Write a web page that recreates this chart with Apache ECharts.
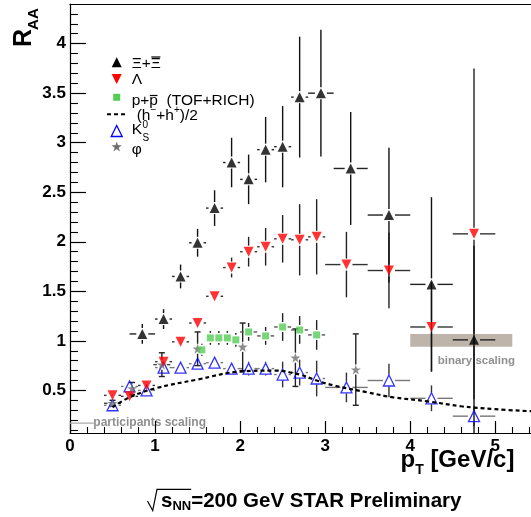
<!DOCTYPE html>
<html>
<head>
<meta charset="utf-8">
<script src="https://cdn.jsdelivr.net/npm/echarts@6/dist/echarts.min.js"></script>
<style>
  html, body { margin: 0; padding: 0; background: #fff; }
  #main { width: 531px; height: 517px; }
</style>
</head>
<body>
<div id="main"></div>
<script>
// ---- data ----
// Xi + anti-Xi
const xiX  = [0.85, 1.1, 1.3, 1.5, 1.7, 1.9, 2.1, 2.3, 2.5, 2.7, 2.95, 3.3, 3.75, 4.25, 4.75]
const xiY  = [1.07, 1.22, 1.65, 1.99, 2.34, 2.80, 2.63, 2.93, 2.96, 3.46, 3.50, 2.74, 2.27, 1.57, 1.01]
const xiEx = [0.15, 0.1, 0.1, 0.1, 0.1, 0.1, 0.1, 0.1, 0.1, 0.1, 0.15, 0.2, 0.25, 0.25, 0.25]
const xiEy = [0.10, 0.10, 0.12, 0.14, 0.18, 0.25, 0.25, 0.33, 0.41, 0.61, 0.64, 0.57, 0.68, 0.88, 0.95]
// Lambda
const lamX  = [0.5, 0.7, 0.9, 1.1, 1.3, 1.5, 1.7, 1.9, 2.1, 2.3, 2.5, 2.7, 2.9, 3.25, 3.75, 4.25, 4.75]
const lamY  = [0.45, 0.44, 0.55, 0.79, 0.99, 1.18, 1.45, 1.74, 1.90, 1.95, 2.03, 2.02, 2.05, 1.77, 1.71, 1.14, 2.08]
const lamEx = [0.1, 0.1, 0.1, 0.1, 0.1, 0.1, 0.1, 0.1, 0.1, 0.1, 0.1, 0.1, 0.1, 0.25, 0.25, 0.25, 0.25]
const lamEy = [0.02, 0.02, 0.03, 0.03, 0.03, 0.04, 0.05, 0.10, 0.15, 0.19, 0.24, 0.36, 0.38, 0.33, 0.38, 0.45, 1.67]
// p + pbar (TOF+RICH)
const ppX  = [1.55, 1.65, 1.75, 1.85, 1.95, 2.1, 2.3, 2.5, 2.7, 2.9]
const ppY  = [0.91, 1.03, 1.03, 1.03, 1.01, 1.09, 1.05, 1.14, 1.11, 1.06]
const ppEx = [0.05, 0.05, 0.05, 0.05, 0.05, 0.1, 0.1, 0.1, 0.1, 0.1]
const ppEy = [0.06, 0.07, 0.07, 0.07, 0.07, 0.09, 0.09, 0.14, 0.14, 0.15]
// K0s
const k0X  = [0.5, 0.7, 0.9, 1.1, 1.3, 1.5, 1.7, 1.9, 2.1, 2.3, 2.5, 2.7, 2.9, 3.25, 3.75, 4.25, 4.75]
const k0Y  = [0.35, 0.54, 0.50, 0.73, 0.73, 0.77, 0.78, 0.72, 0.72, 0.72, 0.66, 0.68, 0.62, 0.53, 0.60, 0.42, 0.24]
const k0Ex = [0.1, 0.1, 0.1, 0.1, 0.1, 0.1, 0.1, 0.1, 0.1, 0.1, 0.1, 0.1, 0.1, 0.25, 0.25, 0.25, 0.25]
const k0Ey = [0.02, 0.03, 0.03, 0.03, 0.03, 0.03, 0.04, 0.05, 0.07, 0.07, 0.13, 0.13, 0.18, 0.15, 0.17, 0.13, 0.10]
// phi
const phiX  = [0.5, 0.73, 1.08, 1.5, 2.03, 2.65, 3.36]
const phiY  = [0.37, 0.52, 0.76, 0.92, 0.94, 0.83, 0.71]
const phiEx = [0.1, 0.05, 0.1, 0.05, 0.05, 0.05, 0.05]
const phiEy = [0.03, 0.06, 0.12, 0.17, 0.24, 0.29, 0.36]
// (h- + h+)/2 curve
const hX = [0.5, 0.7, 1.0, 1.5, 2.0, 2.4, 2.7, 2.9, 3.1, 3.5, 3.8, 4.2, 4.6, 5.0, 5.42]
const hY = [0.33, 0.43, 0.52, 0.61, 0.69, 0.70, 0.66, 0.60, 0.55, 0.48, 0.43, 0.39, 0.34, 0.31, 0.29]
// scaling references
const binaryBand = [4.0, 5.2, 0.94, 1.07]   // x0, x1, y0, y1
const participantsLevel = 0.17
const participantsSpan = [0, 0.28]

// axis ticks
const xTicks = [0, 1, 2, 3, 4, 5]
const yTicks = [0.5, 1, 1.5, 2, 2.5, 3, 3.5, 4]
const xMinorTicks = []
for (let i = 1; i <= 27; i++) if (i % 5) xMinorTicks.push(Math.round(i * 2) / 10)
const yMinorTicks = []
for (let i = 1; i <= 43; i++) if (i % 5) yMinorTicks.push(i / 10)

const FONT = '"Liberation Sans", Arial, sans-serif'
const X_MAX = 5.42
const Y_MIN = 0.07
const Y_MAX = 4.4

const mctx = document.createElement('canvas').getContext('2d')
const textW = (s, size, weight) => {
    mctx.font = (weight || 'normal') + ' ' + size + 'px ' + FONT
    return mctx.measureText(s).width
}

// error bars with a gap round the marker, like ROOT draws them
const errSeries = (xs, ys, exs, eys, gap, vColor, hColor, caps) => ({
    type: 'custom',
    silent: true,
    clip: true,
    data: xs.map((x, i) => [x, ys[i], exs[i], eys[i]]),
    encode: { x: 0, y: 1 },
    renderItem(params, api) {
        const x = api.value(0), y = api.value(1), ex = api.value(2), ey = api.value(3)
        const c = api.coord([x, y])
        const top = api.coord([x, y + ey])[1]
        const bot = api.coord([x, y - ey])[1]
        const lft = api.coord([x - ex, y])[0]
        const rgt = api.coord([x + ex, y])[0]
        const vs = { stroke: vColor, lineWidth: 1.4 }
        const hs = { stroke: hColor, lineWidth: 1.4 }
        const kids = []
        if (c[1] - gap > top) kids.push({ type: 'line', shape: { x1: c[0], y1: top, x2: c[0], y2: c[1] - gap }, style: vs })
        if (bot > c[1] + gap) kids.push({ type: 'line', shape: { x1: c[0], y1: c[1] + gap, x2: c[0], y2: bot }, style: vs })
        if (c[0] - gap > lft) kids.push({ type: 'line', shape: { x1: lft, y1: c[1], x2: c[0] - gap, y2: c[1] }, style: hs })
        if (rgt > c[0] + gap) kids.push({ type: 'line', shape: { x1: c[0] + gap, y1: c[1], x2: rgt, y2: c[1] }, style: hs })
        if (caps) {
            kids.push({ type: 'line', shape: { x1: c[0] - 3, y1: top, x2: c[0] + 3, y2: top }, style: vs })
            kids.push({ type: 'line', shape: { x1: c[0] - 3, y1: bot, x2: c[0] + 3, y2: bot }, style: vs })
        }
        return { type: 'group', children: kids }
    }
})

const markSeries = (xs, ys, symbol, size, itemStyle, rotate) => ({
    type: 'scatter',
    silent: true,
    data: xs.map((x, i) => [x, ys[i]]),
    symbol,
    symbolSize: size,
    symbolRotate: rotate || 0,
    itemStyle
})

const STAR = 'path://M0,-1L0.2245,-0.309L0.951,-0.309L0.363,0.118L0.588,0.809L0,0.382L-0.588,0.809L-0.363,0.118L-0.951,-0.309L-0.2245,-0.309Z'
const starPts = (cx, cy, r) => {
    const p = []
    for (let i = 0; i < 10; i++) {
        const a = -Math.PI / 2 + i * Math.PI / 5
        const rr = i % 2 ? r * 0.382 : r
        p.push([cx + rr * Math.cos(a), cy + rr * Math.sin(a)])
    }
    return p
}

// ---- legend and annotations (graphic) ----
const txt = (x, y, s, size, opts) => ({
    type: 'text',
    silent: true,
    style: Object.assign({
        x, y, text: s, fontSize: size, fontFamily: FONT, fill: '#000',
        align: 'left', verticalAlign: 'middle'
    }, opts || {})
})
const line = (x1, y1, x2, y2, style) => ({
    type: 'line', silent: true, shape: { x1, y1, x2, y2 },
    style: Object.assign({ stroke: '#000', lineWidth: 1 }, style || {})
})

const LX = 116.7, TX = 131.7, LS = 15.5
const w1 = textW('Ξ+', LS), w1b = textW('Ξ', LS)
const w3 = textW('p+', LS), w3b = textW('p', LS)
const wK = textW('K', LS)
const wh1 = textW('(h', LS), whm = textW('−', 10), wh2 = textW('+h', LS), whp = textW('+', 10)

const legend = [
    { type: 'polygon', silent: true, shape: { points: [[LX, 57.3], [LX + 5, 67.3], [LX - 5, 67.3]] }, style: { fill: '#000' } },
    txt(TX, 64, 'Ξ+Ξ', LS),
    line(TX + w1 + 0.5, 57, TX + w1 + w1b - 0.5, 57, { lineWidth: 1.2 }),

    { type: 'polygon', silent: true, shape: { points: [[LX - 5, 74], [LX + 5, 74], [LX, 84]] }, style: { fill: '#ff0000' } },
    txt(TX, 79.5, 'Λ', LS),

    { type: 'rect', silent: true, shape: { x: LX - 3.5, y: 93.8, width: 7, height: 7 }, style: { fill: '#55cc55' } },
    txt(TX, 100.5, 'p+p  (TOF+RICH)', LS),
    line(TX + w3 + 0.5, 95.5, TX + w3 + w3b - 0.5, 95.5, { lineWidth: 1.2 }),

    line(107, 114.3, 128, 114.3, { lineWidth: 2, lineDash: [4, 3] }),
    txt(136.7, 115.5, '(h', LS),
    txt(136.7 + wh1, 110, '−', 10),
    txt(136.7 + wh1 + whm, 115.5, '+h', LS),
    txt(136.7 + wh1 + whm + wh2, 110, '+', 10),
    txt(136.7 + wh1 + whm + wh2 + whp, 115.5, ')/2', LS),

    { type: 'polygon', silent: true, shape: { points: [[LX, 125.5], [LX + 5.5, 136.5], [LX - 5.5, 136.5]] }, style: { fill: 'none', stroke: '#0000ff', lineWidth: 1.3 } },
    txt(TX, 130, 'K', LS),
    txt(TX + wK + 0.5, 125.5, '0', 10),
    txt(TX + wK + 0.5, 138, 'S', 10),

    { type: 'polygon', silent: true, shape: { points: starPts(LX, 147, 5.5) }, style: { fill: '#6e6e6e' } },
    txt(TX, 149.5, 'φ', LS)
]

// y title, rotated
const yTitle = {
    type: 'group', x: 32, y: 47, rotation: Math.PI / 2, silent: true,
    children: [
        { type: 'text', style: { x: 0, y: 5, text: 'R', fontSize: 25, fontWeight: 'bold', fontFamily: FONT, fill: '#000', align: 'left', verticalAlign: 'bottom' } },
        { type: 'text', style: { x: textW('R', 25, 'bold') - 1, y: 9, text: 'AA', fontSize: 15, fontWeight: 'bold', fontFamily: FONT, fill: '#000', align: 'left', verticalAlign: 'bottom' } }
    ]
}

// x title
const XT = 24
const wp = textW('p', XT, 'bold'), wT = textW('T', 14, 'bold')
const xTitle = [
    txt(400.5, 460, 'p', XT, { fontWeight: 'bold' }),
    txt(400.5 + wp, 470, 'T', 14, { fontWeight: 'bold' }),
    txt(400.5 + wp + wT, 460, ' [GeV/c]', XT, { fontWeight: 'bold' })
]

// bottom caption: sqrt(s_NN)=200 GeV STAR Preliminary
const CS = 20.5
const ws = textW('s', CS, 'bold'), wNN = textW('NN', 13, 'bold')
const caption = [
    { type: 'polyline', silent: true, shape: { points: [[147.5, 501], [152.7, 510.5], [157, 489.3], [161 + ws + wNN, 489.3]] }, style: { stroke: '#000', lineWidth: 1.2, fill: 'none' } },
    txt(161, 501, 's', CS, { fontWeight: 'bold' }),
    txt(161 + ws, 506.5, 'NN', 13, { fontWeight: 'bold' }),
    txt(161 + ws + wNN, 501, '=200 GeV STAR Preliminary', CS, { fontWeight: 'bold' })
]

const notes = [
    txt(93.3, 422.5, 'participants scaling', 12, { fontWeight: 'bold', fill: '#8f8f8f' }),
    txt(437.7, 360.7, 'binary scaling', 11.5, { fontWeight: 'bold', fill: '#8f8f8f' })
]

const option = {
    animation: false,
    backgroundColor: '#fff',
    grid: { left: 70, right: 0, top: 4, bottom: 84 },
    xAxis: [
        {
            type: 'value', min: 0, max: X_MAX, position: 'bottom',
            axisLine: { show: true, lineStyle: { color: '#000', width: 1.2 } },
            axisTick: { show: true, inside: true, length: 12, customValues: xTicks, lineStyle: { color: '#000', width: 1.2 } },
            axisLabel: {
                show: true, customValues: xTicks, margin: 5, color: '#000',
                fontFamily: FONT, fontWeight: 'bold', fontSize: 17
            },
            splitLine: { show: false }
        },
        {
            type: 'value', min: 0, max: X_MAX, position: 'bottom',
            axisLine: { show: false },
            axisTick: { show: true, inside: true, length: 6, customValues: xMinorTicks, lineStyle: { color: '#000', width: 1.1 } },
            axisLabel: { show: false },
            splitLine: { show: false }
        },
        {
            type: 'value', min: 0, max: X_MAX, position: 'top',
            axisLine: { show: true, lineStyle: { color: '#000', width: 1.2 } },
            axisTick: { show: false },
            axisLabel: { show: false },
            splitLine: { show: false }
        }
    ],
    yAxis: [
        {
            type: 'value', min: Y_MIN, max: Y_MAX, position: 'left',
            axisLine: { show: true, lineStyle: { color: '#000', width: 1.2 } },
            axisTick: { show: true, inside: true, length: 16, customValues: yTicks, lineStyle: { color: '#000', width: 1.2 } },
            axisLabel: {
                show: true, customValues: yTicks, margin: 4, color: '#000',
                fontFamily: FONT, fontWeight: 'bold', fontSize: 17
            },
            splitLine: { show: false }
        },
        {
            type: 'value', min: Y_MIN, max: Y_MAX, position: 'left', offset: 0,
            axisLine: { show: false },
            axisTick: { show: true, inside: true, length: 8, customValues: yMinorTicks, lineStyle: { color: '#000', width: 1.1 } },
            axisLabel: { show: false },
            splitLine: { show: false }
        }
    ],
    series: [
        {
            type: 'custom', silent: true, clip: true,
            data: [binaryBand],
            renderItem(params, api) {
                const a = api.coord([api.value(0), api.value(3)])
                const b = api.coord([api.value(1), api.value(2)])
                return { type: 'rect', shape: { x: a[0], y: a[1], width: b[0] - a[0], height: b[1] - a[1] }, style: { fill: '#bfb4aa' } }
            }
        },
        {
            type: 'line', silent: true, symbol: 'none',
            data: [[participantsSpan[0], participantsLevel], [participantsSpan[1], participantsLevel]],
            lineStyle: { color: '#aaaaaa', width: 1.2 }
        },
        {
            type: 'line', silent: true, symbol: 'none', smooth: 0.4, clip: true,
            data: hX.map((x, i) => [x, hY[i]]),
            lineStyle: { color: '#000', width: 2.2, type: [4, 3] }
        },
        errSeries(k0X, k0Y, k0Ex, k0Ey, 6, '#333', '#777', false),
        markSeries(k0X, k0Y, 'triangle', 11, { color: 'rgba(0,0,0,0)', borderColor: '#0000ff', borderWidth: 1.3 }),
        errSeries(phiX, phiY, phiEx, phiEy, 5, '#222', '#444', true),
        markSeries(phiX, phiY, STAR, 10, { color: '#6e6e6e' }),
        errSeries(ppX, ppY, ppEx, ppEy, 5, '#222', '#555', false),
        markSeries(ppX, ppY, 'rect', 7, { color: '#55cc55' }),
        errSeries(lamX, lamY, lamEx, lamEy, 6, '#222', '#333', false),
        markSeries(lamX, lamY, 'triangle', 10, { color: '#ff0000' }, 180),
        errSeries(xiX, xiY, xiEx, xiEy, 6, '#111', '#222', false),
        markSeries(xiX, xiY, 'triangle', 10, { color: '#000' })
    ],
    graphic: [].concat(legend, [yTitle], xTitle, caption, notes)
}

const chart = echarts.init(document.getElementById('main'))
chart.setOption(option)
</script>
</body>
</html>
